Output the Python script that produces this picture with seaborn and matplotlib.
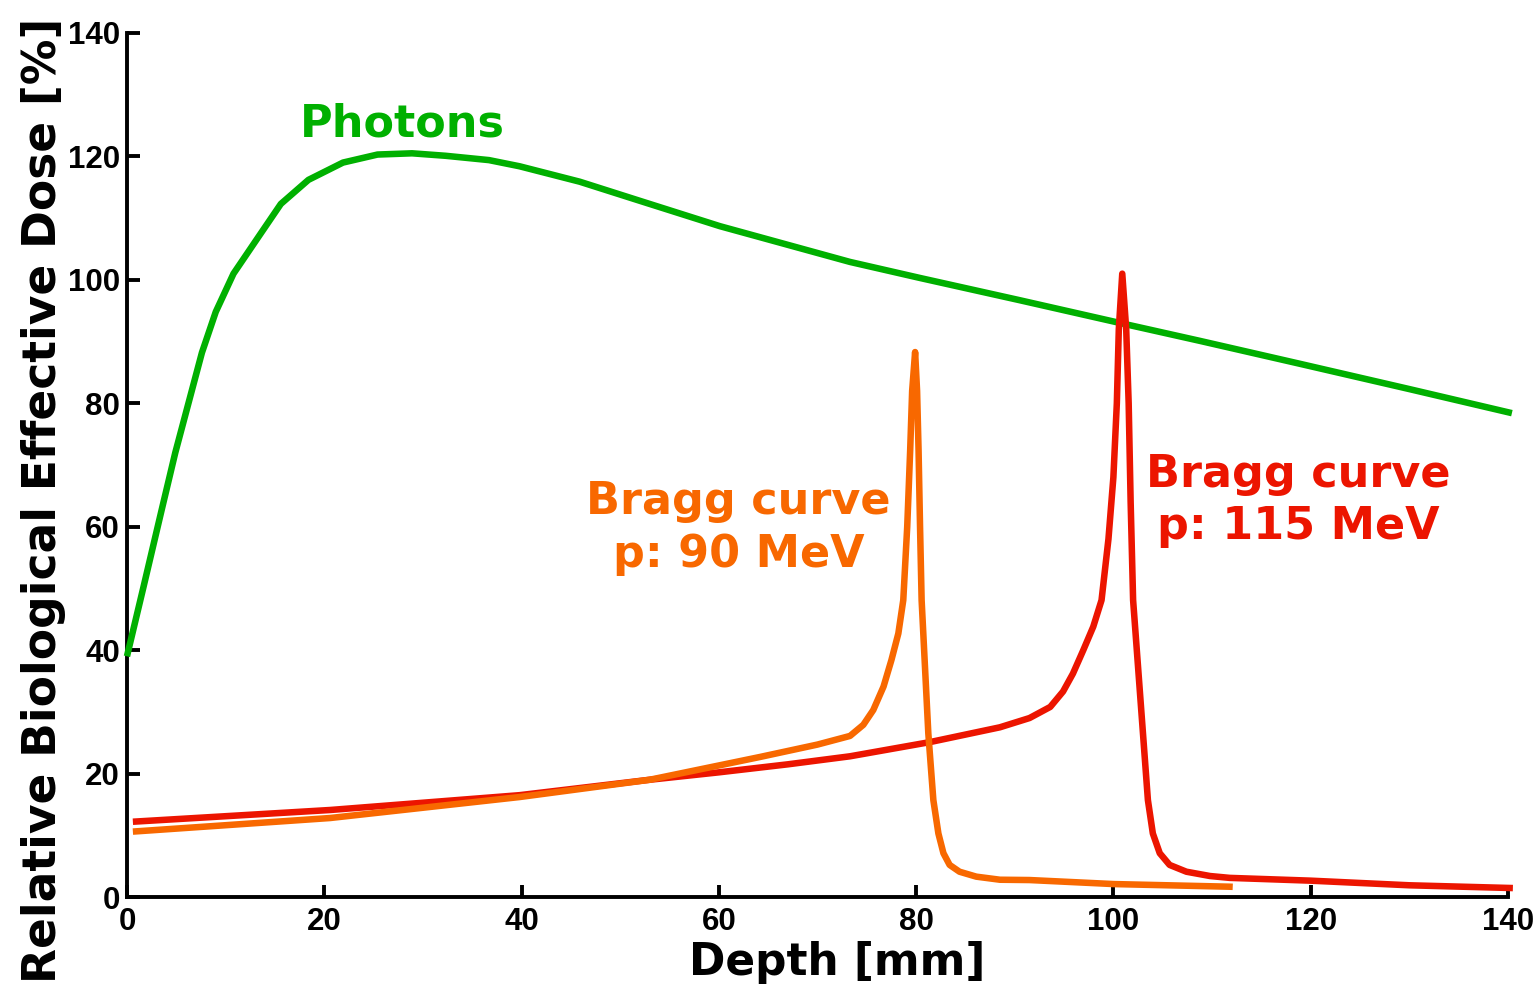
import matplotlib
matplotlib.use("Agg")
import matplotlib.pyplot as plt
import seaborn as sns
import pandas as pd

# ---- data ----
photon_depth = [0.0, 1.7, 3.5, 4.9, 6.2, 7.6, 9.0, 10.8, 13.6, 15.6, 18.4, 21.9,
                25.4, 28.9, 32.3, 36.7, 39.8, 45.9, 52.0, 60.1, 73.3,
                80.4, 90.5, 100.7, 108.8, 118.9, 130.0, 140.4]
photon_dose = [39.0, 50.4, 62.6, 72.0, 79.8, 88.2, 94.8, 101.0, 107.6, 112.3, 116.2,
               119.0, 120.3, 120.5, 120.1, 119.4, 118.4, 115.9, 112.8, 108.7,
               102.9, 100.3, 96.7, 93.0, 90.1, 86.4, 82.3, 78.4]

p90_depth = [0.6, 20.6, 39.8, 53.0, 64.2, 70.0, 73.3, 74.65, 75.66, 76.7, 77.5,
             78.2, 78.7, 79.1, 79.4, 79.6, 79.9, 80.1, 80.25, 80.4, 80.56, 80.9,
             81.24, 81.75, 82.26, 82.77, 83.4, 84.4, 86.1, 88.5, 91.5, 100.0, 111.8, 112.1]
p90_dose = [10.6, 12.8, 16.2, 19.0, 22.7, 24.7, 26.1, 27.9, 30.3, 34.1, 38.4,
            42.7, 48.1, 60.0, 72.4, 82.0, 88.3, 82.0, 72.4, 60.0, 48.1, 37.3,
            26.5, 15.7, 10.3, 7.1, 5.2, 4.1, 3.3, 2.8, 2.75, 2.1, 1.67, 1.65]

p115_depth = [0.6, 20.6, 39.8, 53.0, 60.0, 67.0, 73.3, 81.4, 88.5, 91.5, 93.6, 94.9,
              95.9, 96.95, 97.96, 98.8, 99.5, 100.0, 100.35, 100.55, 100.9, 101.3,
              101.55, 101.75, 102.0, 102.5, 103.0, 103.5, 104.0, 104.7, 105.7,
              107.4, 109.8, 111.8, 120.0, 130.0, 140.5]
p115_dose = [12.2, 14.1, 16.5, 19.0, 20.2, 21.5, 22.8, 25.1, 27.5, 29.0, 30.8, 33.3,
             36.2, 40.0, 43.8, 48.1, 58.0, 68.0, 80.0, 92.0, 101.0, 92.0,
             80.0, 64.0, 48.1, 37.3, 26.5, 15.7, 10.3, 7.1, 5.2,
             4.1, 3.4, 3.1, 2.65, 1.9, 1.45]

x_ticks = [0, 20, 40, 60, 80, 100, 120, 140]
y_ticks = [0, 20, 40, 60, 80, 100, 120, 140]

GREEN = "#00b000"
ORANGE = "#f86800"
RED = "#ec1500"

sns.set_style("ticks")
plt.rcParams["font.family"] = ["DejaVu Sans"]
plt.rcParams["text.color"] = "black"
plt.rcParams["axes.labelcolor"] = "black"

fig = plt.figure(figsize=(15.37, 9.84), dpi=100)
ax = fig.add_axes([0.0826, 0.0884, 0.9811 - 0.0826, 0.9665 - 0.0884])

lw = 4.7
for xs, ys, c in [(photon_depth, photon_dose, GREEN),
                  (p115_depth, p115_dose, RED),
                  (p90_depth, p90_dose, ORANGE)]:
    df = pd.DataFrame({"depth": xs, "dose": ys})
    sns.lineplot(data=df, x="depth", y="dose", ax=ax, color=c, linewidth=lw,
                 sort=False, estimator=None, clip_on=False, zorder=5,
                 solid_joinstyle="round", solid_capstyle="butt")

ax.set_xlim(0, 140)
ax.set_ylim(0, 140)
ax.set_xticks(x_ticks)
ax.set_yticks(y_ticks)
ax.set_xticklabels([str(t) for t in x_ticks], fontfamily="Liberation Sans",
                   fontsize=22.5, fontweight="bold")
ax.set_yticklabels([str(t) for t in y_ticks], fontfamily="Liberation Sans",
                   fontsize=22.5, fontweight="bold")
ax.tick_params(direction="in", length=9, width=2.8, colors="black")
ax.tick_params(axis="x", pad=7)
ax.tick_params(axis="y", pad=5)
for s in ["top", "right"]:
    ax.spines[s].set_visible(False)
for s in ["left", "bottom"]:
    ax.spines[s].set_linewidth(2.8)
    ax.spines[s].set_color("black")

ax.set_xlabel("Depth [mm]", fontsize=31.6, fontweight="bold", labelpad=3)
ax.xaxis.set_label_coords(0.5145, -0.0395, transform=None) if False else None
ax.set_ylabel("Relative Biological Effective Dose [%]", fontsize=32.8, fontweight="bold")
ax.yaxis.set_label_coords(-0.0442, 0.4595)

fig.canvas.draw()
# shift x label horizontally to match reference while keeping its vertical placement
xl = ax.xaxis.label
x_disp, y_disp = xl.get_position()
xl.set_x(0.5145)

ax.text(27.9, 125.3, "Photons", color=GREEN, fontsize=32, fontweight="bold",
        ha="center", va="center")
ax.text(62.0, 59.8, "Bragg curve\np: 90 MeV", color=ORANGE, fontsize=32,
        fontweight="bold", ha="center", va="center", linespacing=1.27)
ax.text(118.7, 64.3, "Bragg curve\np: 115 MeV", color=RED, fontsize=32,
        fontweight="bold", ha="center", va="center", linespacing=1.27)

fig.savefig("out.png", dpi=100, facecolor="white")
